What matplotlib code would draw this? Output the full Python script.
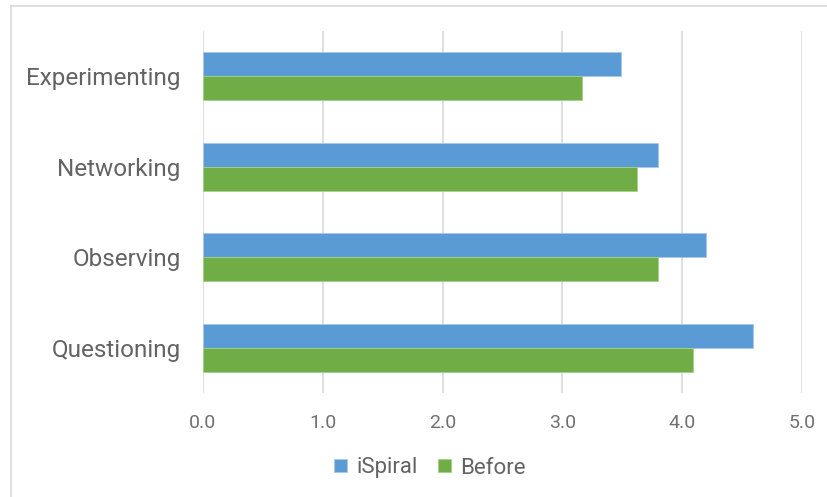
import matplotlib
matplotlib.use("Agg")
import matplotlib.pyplot as plt
from matplotlib.lines import Line2D
import numpy as np

categories = ["Experimenting", "Networking", "Observing", "Questioning"]
ispiral = [3.49, 3.80, 4.20, 4.59]
before = [3.16, 3.62, 3.80, 4.09]
xticks = [0, 1, 2, 3, 4, 5]

plt.rcParams['font.family'] = ['Roboto', 'DejaVu Sans']
txt = '#636363'

fig = plt.figure(figsize=(8.28, 4.97), dpi=100)
ax = fig.add_axes([203 / 828, 1 - 393 / 497, 599 / 828, 362 / 497])

y = np.arange(len(categories))
h = 0.265
ax.barh(y - h / 2, ispiral, height=h, color='#5B9BD5', edgecolor='#A9C8E8',
        linewidth=0.6, label='iSpiral', zorder=3)
ax.barh(y + h / 2, before, height=h, color='#70AD47', edgecolor='#A6D08A',
        linewidth=0.6, label='Before', zorder=3)

ax.set_ylim(3.5, -0.5)
ax.set_xlim(0, 5)
ax.set_yticks(y)
ax.set_yticklabels(categories, fontsize=17.5, color=txt)
ax.set_xticks(xticks)
ax.set_xticklabels([f"{v:.1f}" for v in xticks], fontsize=14, color='#707070')
ax.tick_params(axis='y', length=0, pad=16)
ax.tick_params(axis='x', length=0, pad=15)
ax.grid(axis='x', color='#D9D9D9', linewidth=1.2, zorder=0)
for s in ax.spines.values():
    s.set_visible(False)

# chart frame (cropped at right and bottom)
fig.add_artist(Line2D([11 / 828, 1], [1 - 6 / 497] * 2, color='#D9D9D9', lw=1.2))
fig.add_artist(Line2D([11 / 828] * 2, [0, 1 - 6 / 497], color='#D9D9D9', lw=1.2))

leg = fig.legend(loc='center', bbox_to_anchor=(430 / 828, 1 - 468 / 497), ncol=2,
                 frameon=False, fontsize=16, handlelength=0.57, handleheight=0.57,
                 handletextpad=0.45, columnspacing=0.9)
for t in leg.get_texts():
    t.set_color(txt)

fig.savefig("out.png", dpi=100)
